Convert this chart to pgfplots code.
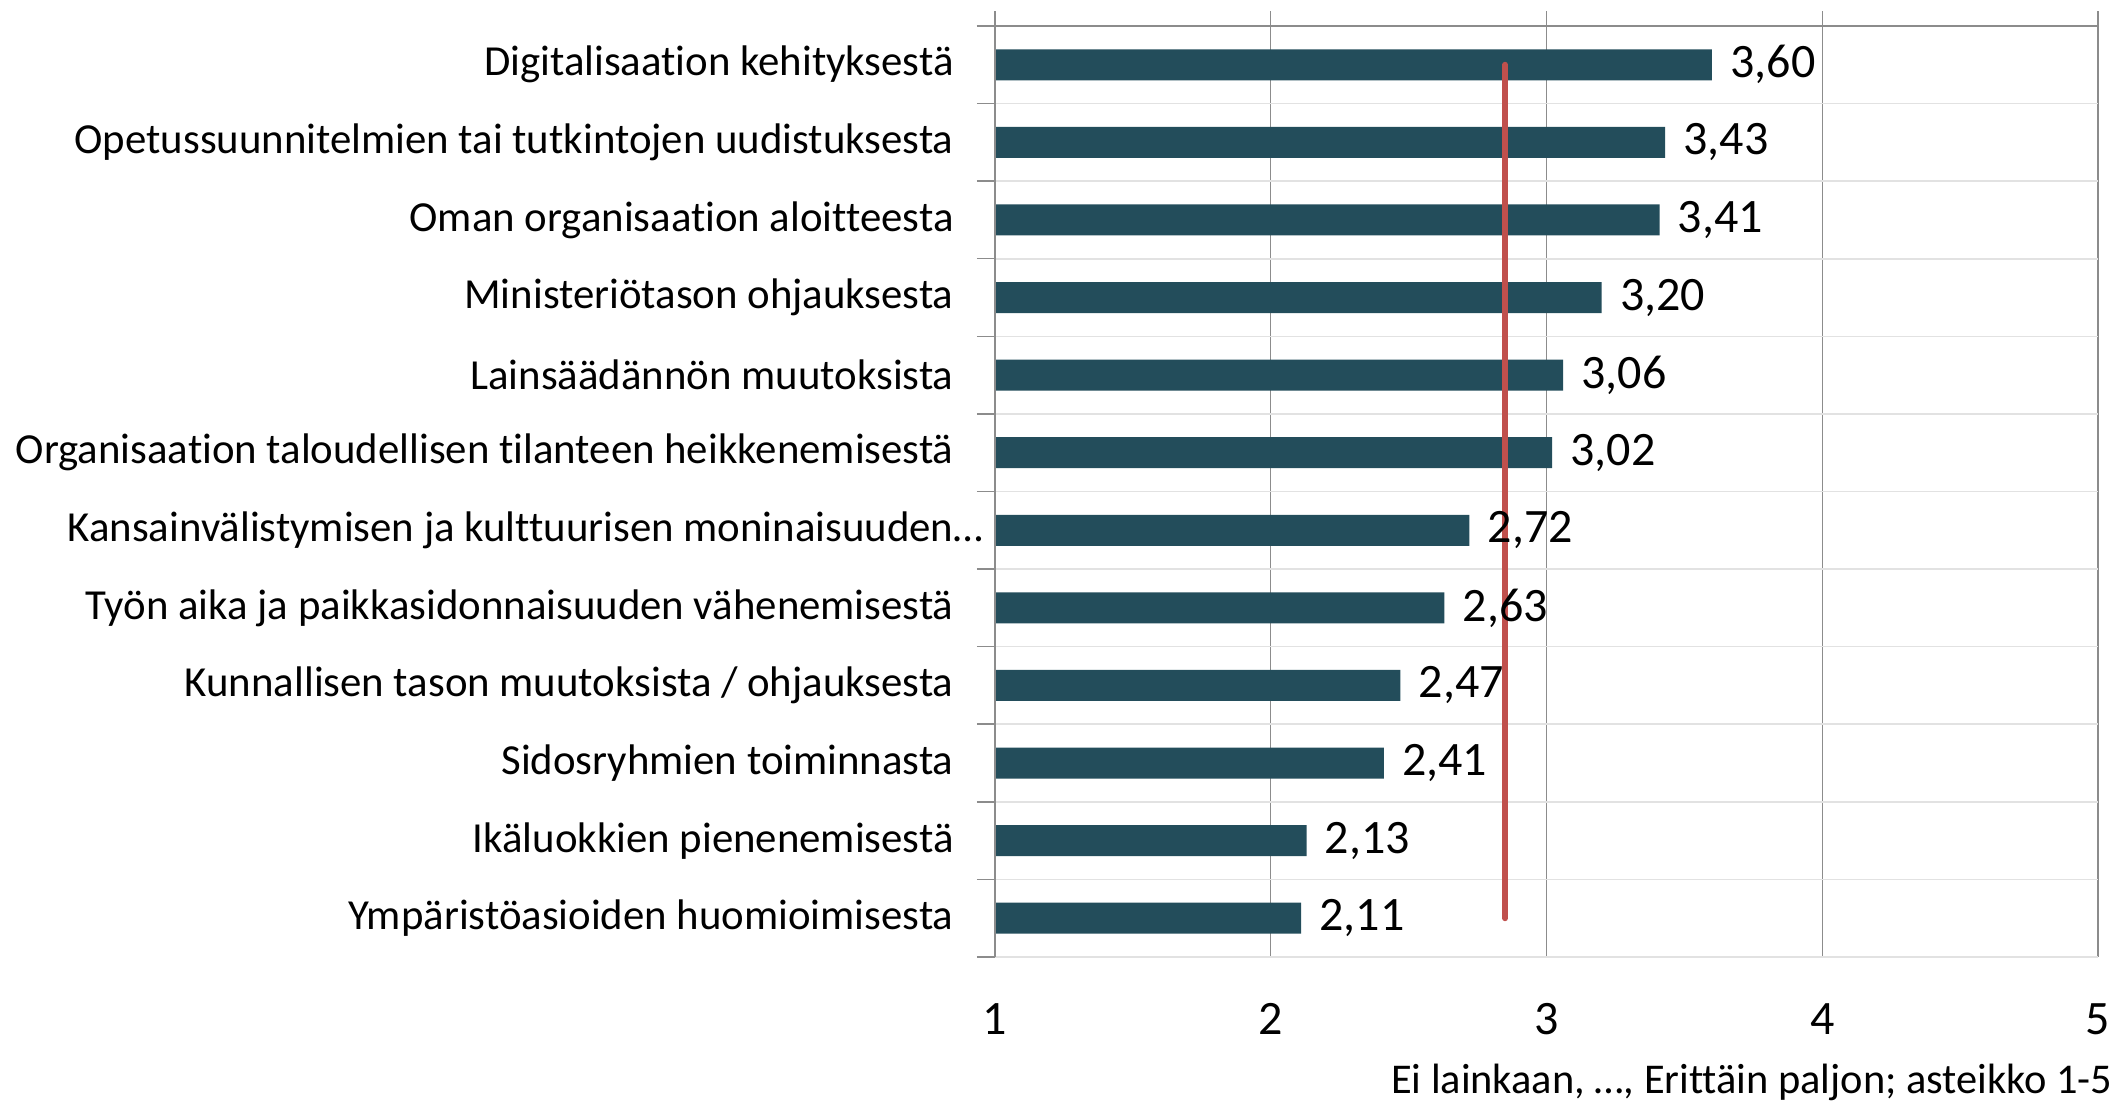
\documentclass[border=0pt]{standalone}
\usepackage{fontspec}
\setmainfont{Carlito}[Ligatures=NoCommon]
\usepackage{pgfplots}
\pgfplotsset{compat=1.18}
\definecolor{barc}{HTML}{234D5B}
\definecolor{redl}{HTML}{C0504D}
\definecolor{gridd}{HTML}{8C8C8C}
\definecolor{gridl}{HTML}{E2E2E2}
\begin{document}
\begin{tikzpicture}
\begin{axis}[
  scale only axis, width=551.5pt, height=465.5pt,
  xmin=1, xmax=5, ymin=-0.5, ymax=11.5,
  clip mode=individual,
  /pgf/number format/assume math mode=true,
  axis line style={draw=none},
  xtick={1,...,5}, xtick pos=bottom,
  xmajorgrids, major x grid style={gridd, line width=0.75pt},
  x tick style={draw=none},
  ytick={0,...,11}, ytick pos=left,
  yticklabels={Ympäristöasioiden huomioimisesta,
    Ikäluokkien pienenemisestä,
    Sidosryhmien toiminnasta,
    Kunnallisen tason muutoksista / ohjauksesta,
    Työn aika ja paikkasidonnaisuuden vähenemisestä,
    Kansainvälistymisen ja kulttuurisen moninaisuuden\rlap{…},
    Organisaation taloudellisen tilanteen heikkenemisestä,
    Lainsäädännön muutoksista,
    Ministeriötason ohjauksesta,
    Oman organisaation aloitteesta,
    Opetussuunnitelmien tai tutkintojen uudistuksesta,
    Digitalisaation kehityksestä},
  minor ytick={-0.5,0.5,...,11.5},
  yminorgrids, minor y grid style={gridl, line width=0.8pt},
  tick align=outside,
  major tick length=0pt, minor tick length=9pt,
  y tick style={gridd, line width=0.75pt},
  yticklabel style={font=\fontsize{21.4pt}{25pt}\selectfont, anchor=east, inner sep=0pt, xshift=-20.5pt},
  xticklabel style={font=\fontsize{24pt}{28pt}\selectfont, anchor=north, inner sep=0pt, yshift=-23pt},
]
\addplot[xbar, bar width=15.5pt, bar shift=0pt, fill=barc, draw=none] coordinates {
  (2.11,0) (2.13,1) (2.41,2) (2.47,3) (2.63,4) (2.72,5)
  (3.02,6) (3.06,7) (3.20,8) (3.41,9) (3.43,10) (3.60,11)};
\addplot[sharp plot, redl, line width=3pt, line cap=round, mark=none] coordinates {(2.85,11) (2.85,0)};
\addplot[xbar, bar width=15.5pt, bar shift=0pt, fill=none, draw=none,
  point meta=x, nodes near coords={\pgfmathprintnumber[fixed,fixed zerofill,precision=2,use comma]{\pgfplotspointmeta}},
  nodes near coords align={horizontal},
  every node near coord/.append style={font=\fontsize{24pt}{28pt}\selectfont, anchor=west, inner sep=0pt, xshift=9pt, text=black}] coordinates {
  (2.11,0) (2.13,1) (2.41,2) (2.47,3) (2.63,4) (2.72,5)
  (3.02,6) (3.06,7) (3.20,8) (3.41,9) (3.43,10) (3.60,11)};
\pgfplotsinvokeforeach{1,...,5}{\draw[gridd, line width=0.75pt] (axis cs:#1,11.5) -- ++(0pt,7.5pt);}
\draw[gridd, line width=0.75pt] (axis cs:1,-0.5) -- (axis cs:1,11.5);
\draw[gridd, line width=0.75pt] ([xshift=-9pt]axis cs:1,11.5) -- (axis cs:5,11.5);
\node[anchor=base east, font=\fontsize{21.2pt}{25pt}\selectfont, inner sep=0pt] at ([xshift=7.5pt, yshift=-68pt]axis cs:5,-0.5) {Ei lainkaan, …, Erittäin paljon; asteikko 1-5};
\coordinate (bl) at (rel axis cs:0,0);
\coordinate (tr) at (rel axis cs:1,1);
\end{axis}
\pgfresetboundingbox
\path ([shift={(-497.5pt,-75pt)}]bl) rectangle ([shift={(9pt,13pt)}]tr);
\end{tikzpicture}
\end{document}
